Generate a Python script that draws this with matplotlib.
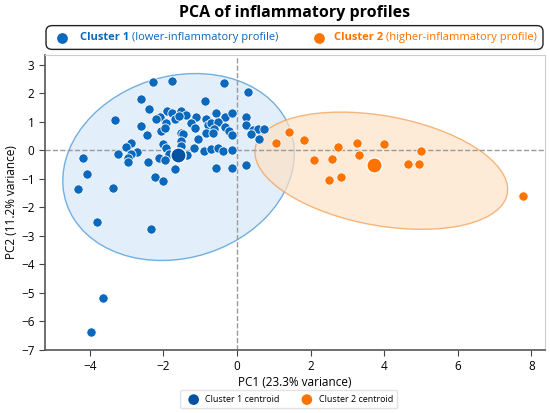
import numpy as np
import matplotlib.pyplot as plt
from matplotlib.patches import Ellipse, FancyBboxPatch

plt.rcParams['font.family'] = ['Open Sans', 'DejaVu Sans']

# Scores PCA, cluster 1 (profil bas)
pc1_c1 = [-2.29, -1.78, -0.36, 0.29, -0.88, -2.61, -2.38, -3.33, -1.91, -1.78,
          -1.51, -1.39, -2.09, -2.21, -1.92, -1.68, -1.59, -1.11, -1.26, -1.15,
          -0.84, -0.56, -0.33, -0.15, 0.23, 0.23, -0.80, -0.70, -0.52, -0.34,
          -0.62, -0.85, -0.66, -0.23, -0.14, 0.43, 0.57, 0.74, 0.37, 0.59,
          -2.60, -2.07, -1.96, -2.45, -1.53, -1.48, -1.07, -1.53, -2.87, -3.02,
          -2.71, -2.87, -3.24, -2.97, -2.97, -2.02, -1.93, -1.84, -1.68, -1.52,
          -1.35, -2.12, -1.96, -2.42, -1.68, -2.24, -2.00, -1.16, -0.90, -0.72,
          -0.52, -0.38, -0.15, -0.56, -0.15, 0.25, -4.19, -4.08, -4.32, -3.36,
          -3.81, -2.33, -3.63, -3.97]
pc2_c1 = [2.40, 2.45, 2.37, 2.05, 1.75, 1.79, 1.46, 1.07, 1.40, 1.33,
          1.38, 1.26, 1.19, 1.09, 0.96, 1.11, 1.22, 1.18, 0.97, 0.80,
          1.11, 1.33, 1.17, 1.30, 1.17, 0.89, 0.91, 0.97, 0.99, 0.84,
          0.75, 0.63, 0.63, 0.68, 0.53, 0.72, 0.76, 0.75, 0.57, 0.41,
          0.86, 0.67, 0.80, 0.53, 0.63, 0.57, 0.40, 0.33, 0.28, 0.11,
          -0.05, -0.13, -0.13, -0.25, -0.40, 0.22, 0.10, -0.11, -0.09, 0.14,
          -0.17, -0.26, -0.32, -0.41, -0.66, -0.92, -1.08, 0.09, -0.02, 0.05,
          0.08, -0.02, 0.00, -0.60, -0.61, -0.51, -0.25, -0.82, -1.34, -1.33,
          -2.50, -2.74, -5.19, -6.37]

# Scores PCA, cluster 2 (profil haut)
pc1_c2 = [1.41, 1.05, 1.81, 2.75, 3.27, 3.99, 4.99, 2.09, 2.57, 3.32,
          4.64, 4.95, 2.51, 2.83, 7.78]
pc2_c2 = [0.65, 0.26, 0.38, 0.11, 0.26, 0.24, -0.03, -0.35, -0.31, -0.16,
          -0.46, -0.49, -1.04, -0.92, -1.60]

centroide1 = (-1.60, -0.15)
centroide2 = (3.71, -0.52)

bleu = '#0a68bd'
bleu_fonce = '#0552a3'
orange = '#ff7300'

fig = plt.figure(figsize=(5.5, 4.13), dpi=100)
ax = fig.add_axes([45/550, 63/413, 500/550, 295/413])

# ellipses de confiance
ax.add_patch(Ellipse((-1.59, -0.58), 6.9, 5.92, angle=52.9,
                     facecolor='#d6e8f7', edgecolor='#3d91d3', alpha=0.7, lw=1, zorder=1))
ax.add_patch(Ellipse((3.92, -0.71), 7.05, 3.8, angle=-15.4,
                     facecolor='#fde2c6', edgecolor='#f59a4a', alpha=0.7, lw=1, zorder=1))

ax.axhline(0, color='#9a9a9a', ls='--', lw=1, zorder=2)
ax.axvline(0, color='#9a9a9a', ls='--', lw=1, zorder=2)

ax.scatter(pc1_c1, pc2_c1, s=45, color=bleu, edgecolor='white', lw=0.6, zorder=3)
ax.scatter(pc1_c2, pc2_c2, s=45, color=orange, edgecolor='white', lw=0.6, zorder=3)
c1 = ax.scatter(*centroide1, s=120, color=bleu_fonce, edgecolor='white', lw=1, zorder=4,
                label='Cluster 1 centroid')
c2 = ax.scatter(*centroide2, s=120, color=orange, edgecolor='white', lw=1, zorder=4,
                label='Cluster 2 centroid')

ax.set_xlim(-5.22, 8.37)
ax.set_ylim(-7, 3.35)
ax.set_xticks([-4, -2, 0, 2, 4, 6, 8])
ax.set_yticks(range(-7, 4))
ax.tick_params(labelsize=8.5, color='#444444', length=4)
for s in ['top', 'right']:
    ax.spines[s].set_color('#cccccc')
for s in ['left', 'bottom']:
    ax.spines[s].set_color('#555555')
    ax.spines[s].set_linewidth(1.2)
ax.set_xlabel("PC1 (23.3% variance)", fontsize=8.5, labelpad=2)
ax.set_ylabel("PC2 (11.2% variance)", fontsize=8.5, labelpad=2)

fig.text(295/550, 1 - 13/413, "PCA of inflammatory profiles", ha='center', va='center',
         fontsize=11.5, fontweight='bold')

# bandeau de légende en haut
axh = fig.add_axes([44/550, 1 - 51/413, 501/550, 27/413])
axh.set_xlim(0, 1)
axh.set_ylim(0, 1)
axh.axis('off')
axh.add_patch(FancyBboxPatch((0.004, 0.06), 0.992, 0.88, boxstyle='round,pad=0,rounding_size=0.012',
                             facecolor='white', edgecolor='#222222', lw=1, transform=axh.transAxes,
                             mutation_aspect=18))
axh.scatter([(62-44)/501], [0.5], s=45, color=bleu)
t1 = axh.text((80-44)/501, 0.5, "Cluster 1", color=bleu, fontweight='bold', fontsize=8,
              va='center')
axh.annotate(" (lower-inflammatory profile)", xy=(1, 0.5), xycoords=t1, va='center',
             color=bleu, fontsize=8)
axh.scatter([(319-44)/501], [0.5], s=45, color=orange)
t2 = axh.text((334-44)/501, 0.5, "Cluster 2", color=orange, fontweight='bold', fontsize=8,
              va='center')
axh.annotate(" (higher-inflammatory profile)", xy=(1, 0.5), xycoords=t2, va='center',
             color=orange, fontsize=8)

leg = fig.legend(handles=[c1, c2], loc='lower center', bbox_to_anchor=(0.525, 0.0), ncol=2,
                 fontsize=6.5, frameon=True, edgecolor='#dddddd', handletextpad=0.3,
                 columnspacing=2, borderpad=0.5, markerscale=0.7)
for h in leg.legend_handles:
    h.set_edgecolor('none')

fig.savefig('out.png', dpi=100)
